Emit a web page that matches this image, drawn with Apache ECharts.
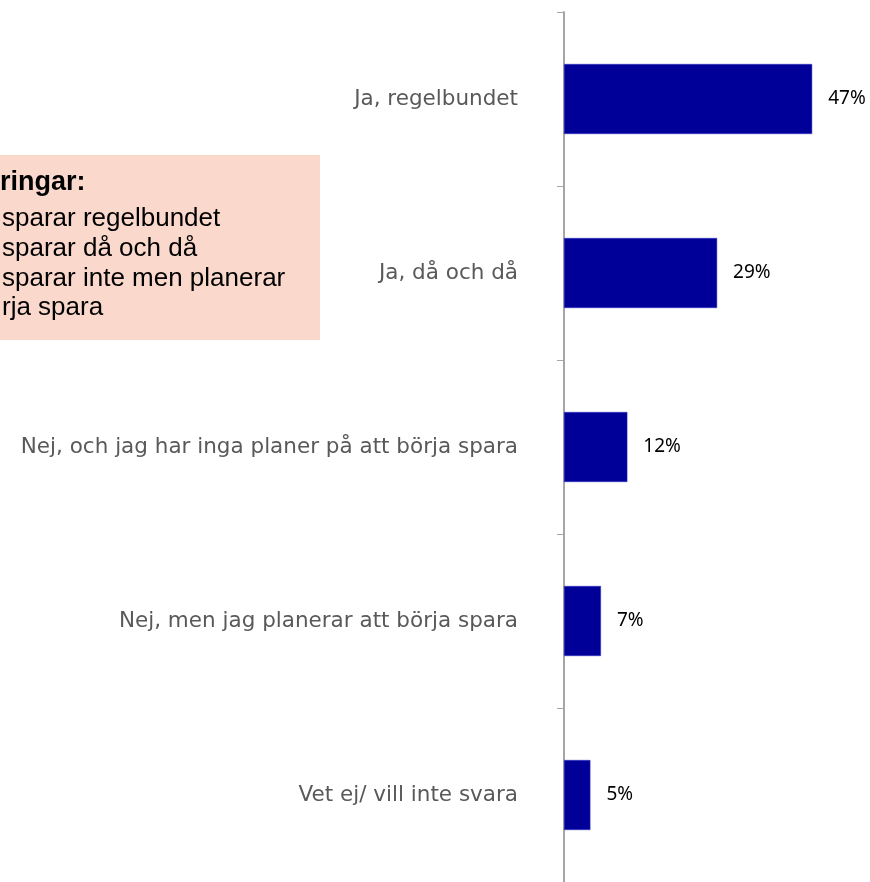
<!DOCTYPE html>
<html>
<head>
<meta charset="utf-8">
<script src="https://cdn.jsdelivr.net/npm/echarts@6/dist/echarts.min.js"></script>
<style>
  html, body { margin: 0; padding: 0; background: #fff; }
  #chart { width: 870px; height: 882px; }
</style>
</head>
<body>
<div id="chart"></div>
<script>
// answers, top to bottom
var categories = [
  'Ja, regelbundet',
  'Ja, då och då',
  'Nej, och jag har inga planer på att börja spara',
  'Nej, men jag planerar att börja spara',
  'Vet ej/ vill inte svara'
]
var values = [47, 29, 12, 7, 5]

// legend box, only the part that shows in the picture
var noteTitle = 'ringar:'
var noteLines = [
  'sparar regelbundet',
  'sparar då och då',
  'sparar inte men planerar',
  'rja spara'
]

var chart = echarts.init(document.getElementById('chart'))

var noteGraphics = [{
  type: 'rect',
  shape: { x: 0, y: 155, width: 320, height: 185 },
  style: { fill: '#fad9cc' },
  z: 10
}, {
  type: 'text',
  x: 0,
  y: 183,
  style: {
    text: noteTitle,
    fill: '#000',
    font: 'bold 27px "Liberation Sans", Arial, sans-serif',
    verticalAlign: 'middle'
  },
  z: 11
}]
for (var i = 0; i < noteLines.length; i++) {
  noteGraphics.push({
    type: 'text',
    x: 2,
    y: 219 + i * 29.7,
    style: {
      text: noteLines[i],
      fill: '#000',
      font: '26px "Liberation Sans", Arial, sans-serif',
      verticalAlign: 'middle'
    },
    z: 11
  })
}

var option = {
  animation: false,
  grid: {
    left: 564,
    right: 42,
    top: 12,
    bottom: 0
  },
  xAxis: {
    type: 'value',
    min: 0,
    max: 50,
    show: false
  },
  yAxis: {
    type: 'category',
    inverse: true,
    data: categories,
    axisLine: {
      lineStyle: { color: '#a6a6a6', width: 2 }
    },
    axisTick: {
      show: true,
      length: 7,
      lineStyle: { color: '#a6a6a6', width: 1 }
    },
    axisLabel: {
      color: '#595959',
      fontFamily: 'DejaVu Sans',
      fontSize: 21.5,
      margin: 46,
      padding: [4, 0, 0, 0]
    }
  },
  series: [{
    type: 'bar',
    data: values,
    barWidth: 70,
    itemStyle: {
      color: '#000099',
      borderColor: '#3333cc',
      borderWidth: 0.5
    },
    label: {
      show: true,
      position: 'right',
      distance: 16,
      color: '#000',
      fontFamily: 'Noto Sans',
      fontSize: 19,
      formatter: '{c}%'
    }
  }],
  graphic: noteGraphics
}

chart.setOption(option)
</script>
</body>
</html>
